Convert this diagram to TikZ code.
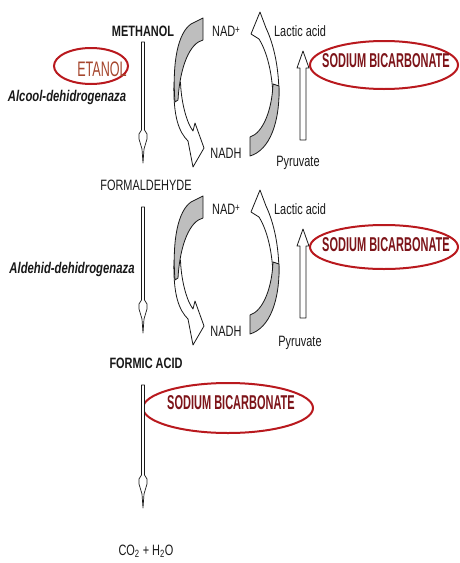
\documentclass[tikz,border=0pt]{standalone}
\usepackage{fontspec}
\setmainfont{Liberation Sans}
\newfontfamily\cf[FakeStretch=0.73]{Liberation Sans}
\newfontfamily\nf[FakeStretch=0.55]{Liberation Sans}
\newfontfamily\ef[FakeStretch=0.6]{Liberation Sans}
\usetikzlibrary{shapes.geometric}
\definecolor{ink}{RGB}{25,25,25}
\definecolor{ovalred}{RGB}{185,25,30}
\definecolor{sbred}{RGB}{125,20,25}
\definecolor{etred}{RGB}{165,70,45}
\definecolor{grayfill}{RGB}{190,190,190}
\newcommand\myDown[2]{%
  \draw[darr] (141.5,#1) -- (141.5,#2) -- (139,#2+4) -- (139,#2+9) -- (142,#2+19) -- (143,#2+33)
    -- (144,#2+19) -- (147,#2+9) -- (147,#2+4) -- (144.5,#2) -- (144.5,#1) -- cycle;}
\newcommand\myCycle[1]{%
  \begin{scope}[shift={(0,#1)}]
  % left arrow: white lower part
  \draw[warrow] (174,82) .. controls (173,117) and (179,132) .. (188,141) -- (193,167) -- (204,148)
     -- (195,123) -- (193,131) .. controls (186,122) and (181,100) .. (180.5,82) -- cycle;
  % left arrow: gray upper part
  \draw[garrow] (191,24) -- (203,18) -- (203,40) .. controls (190,43) and (180,66) .. (178,100)
     -- (175,102) .. controls (172,62) and (178,33) .. (191,24) -- cycle;
  % right arrow: white upper part
  \draw[warrow] (273,96) .. controls (272,72) and (267,52) .. (259,39) -- (251,34) -- (260,12)
     -- (266,28) .. controls (274,45) and (279,68) .. (279,96) -- cycle;
  % right arrow: gray lower part
  \draw[garrow] (250,137) .. controls (263,133) and (272,110) .. (273,84) -- (279,86)
     .. controls (280,122) and (270,150) .. (250,156) -- cycle;
  % up arrow
  \draw[warrow] (300,140) -- (300,68) -- (297,68) -- (303,51) -- (309,68) -- (306,68) -- (306,140) -- cycle;
  \end{scope}}
\begin{document}
\begin{tikzpicture}[x=1pt,y=-1pt,
  lbl/.style={inner sep=0pt, text=ink, text depth=0pt, font=\cf\fontsize{15}{17}\selectfont},
  blbl/.style={lbl, font=\cf\bfseries\fontsize{15}{17}\selectfont},
  enz/.style={lbl, font=\cf\bfseries\itshape\fontsize{15.5}{17}\selectfont},
  sb/.style={inner sep=0pt, text=sbred, text depth=0pt, font=\nf\bfseries\fontsize{20}{22}\selectfont},
  oval/.style={draw=ovalred, line width=2pt, ellipse, inner sep=0pt},
  garrow/.style={fill=grayfill, draw=ink, line width=0.8pt, line join=round},
  warrow/.style={fill=white, draw=ink, line width=0.8pt, line join=round},
  darr/.style={fill=white, draw=ink, line width=0.7pt, line join=round}]
\useasboundingbox[fill=white] (0,0) rectangle (459,563);

% ovals
\node[oval, minimum width=74pt, minimum height=36pt] (o0) at (91,66) {};
\node[oval, minimum width=148pt, minimum height=48pt] (o1) at (384,65) {};
\node[oval, minimum width=148pt, minimum height=44pt] (o2) at (384,247) {};
\node[oval, minimum width=170pt, minimum height=50pt] (o3) at (228,408) {};

% main vertical arrows
\myDown{42}{130}
\myDown{207}{300}
\myDown{385}{475}

% cycles
\myCycle{0}
\myCycle{178}

% left column texts
\node[blbl] (meth) at (143,31) {METHANOL};
\node[inner sep=0pt, text=etred, text depth=0pt, font=\ef\fontsize{21}{23}\selectfont] (et) at (102,69) {ETANOL};
\node[enz] (adh) at (67,96) {Alcool-dehidrogenaza};
\node[lbl] (form) at (146,185) {FORMALDEHYDE};
\node[enz] (aldh) at (72,268) {Aldehid-dehidrogenaza};
\node[blbl] (fa) at (146,363) {FORMIC ACID};
\node[lbl] (co2) at (146,550) {CO\textsubscript{2} + H\textsubscript{2}O};

% cycle 1 texts
\node[lbl] (nad1) at (226,31) {NAD\raisebox{0.35ex}{\fontsize{11}{11}\selectfont+}};
\node[lbl] (nadh1) at (226,153) {NADH};
\node[lbl] (lac1) at (300,31) {Lactic acid};
\node[lbl] (pyr1) at (298,161) {Pyruvate};
% cycle 2 texts
\node[lbl] (nad2) at (226,209) {NAD\raisebox{0.35ex}{\fontsize{11}{11}\selectfont+}};
\node[lbl] (nadh2) at (226,331) {NADH};
\node[lbl] (lac2) at (300,209) {Lactic acid};
\node[lbl] (pyr2) at (300,341) {Pyruvate};

% sodium bicarbonate labels
\node[sb] (sb1) at (386,61) {SODIUM BICARBONATE};
\node[sb] (sb2) at (386,245) {SODIUM BICARBONATE};
\node[sb] (sb3) at (231,403) {SODIUM BICARBONATE};
\end{tikzpicture}
\end{document}
